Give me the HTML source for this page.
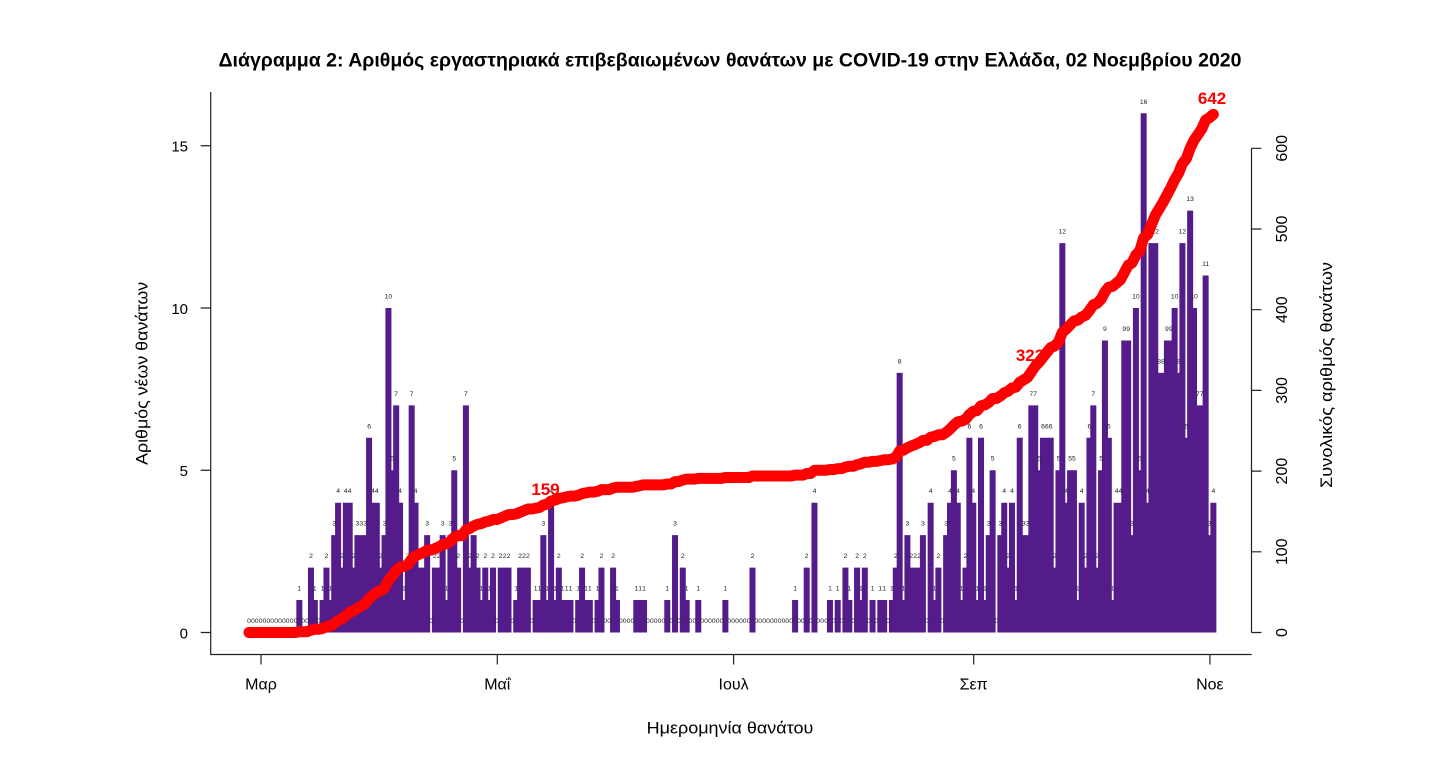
<!DOCTYPE html>
<html><head><meta charset="utf-8">
<style>html,body{margin:0;padding:0;background:#fff;}svg{display:block}</style>
</head><body>
<svg width="1436" height="758" viewBox="0 0 1436 758" xmlns="http://www.w3.org/2000/svg" font-family="'Liberation Sans', 'DejaVu Sans', sans-serif">
<rect width="1436" height="758" fill="#fff"/>
<!-- title -->
<text x="730" y="66.7" text-anchor="middle" font-size="19" font-weight="bold" fill="#000" textLength="1023" lengthAdjust="spacingAndGlyphs">Διάγραμμα 2: Αριθμός εργαστηριακά επιβεβαιωμένων θανάτων με COVID-19 στην Ελλάδα, 02 Νοεμβρίου 2020</text>

<!-- bars -->
<g transform="translate(249 632.5) scale(3.873 -32.45) translate(-0.7746 0)" fill="#541b8a">
<path d="M13 0h1.55v1h-1.55z M16 0h1.55v2h-1.55z M17 0h1.55v1h-1.55z M19 0h1.55v1h-1.55z M20 0h1.55v2h-1.55z M21 0h1.55v1h-1.55z M22 0h1.55v3h-1.55z M23 0h1.55v4h-1.55z M24 0h1.55v2h-1.55z M25 0h1.55v4h-1.55z M26 0h1.55v4h-1.55z M27 0h1.55v2h-1.55z M28 0h1.55v3h-1.55z M29 0h1.55v3h-1.55z M30 0h1.55v3h-1.55z M31 0h1.55v6h-1.55z M32 0h1.55v4h-1.55z M33 0h1.55v4h-1.55z M34 0h1.55v2h-1.55z M35 0h1.55v3h-1.55z M36 0h1.55v10h-1.55z M37 0h1.55v5h-1.55z M38 0h1.55v7h-1.55z M39 0h1.55v4h-1.55z M40 0h1.55v1h-1.55z M41 0h1.55v2h-1.55z M42 0h1.55v7h-1.55z M43 0h1.55v4h-1.55z M44 0h1.55v2h-1.55z M45 0h1.55v2h-1.55z M46 0h1.55v3h-1.55z M48 0h1.55v2h-1.55z M49 0h1.55v2h-1.55z M50 0h1.55v3h-1.55z M51 0h1.55v1h-1.55z M52 0h1.55v3h-1.55z M53 0h1.55v5h-1.55z M54 0h1.55v2h-1.55z M56 0h1.55v7h-1.55z M57 0h1.55v2h-1.55z M58 0h1.55v3h-1.55z M59 0h1.55v2h-1.55z M60 0h1.55v1h-1.55z M61 0h1.55v2h-1.55z M62 0h1.55v1h-1.55z M63 0h1.55v2h-1.55z M65 0h1.55v2h-1.55z M66 0h1.55v2h-1.55z M67 0h1.55v2h-1.55z M69 0h1.55v1h-1.55z M70 0h1.55v2h-1.55z M71 0h1.55v2h-1.55z M72 0h1.55v2h-1.55z M74 0h1.55v1h-1.55z M75 0h1.55v1h-1.55z M76 0h1.55v3h-1.55z M77 0h1.55v1h-1.55z M78 0h1.55v4h-1.55z M79 0h1.55v1h-1.55z M80 0h1.55v2h-1.55z M81 0h1.55v1h-1.55z M82 0h1.55v1h-1.55z M83 0h1.55v1h-1.55z M85 0h1.55v1h-1.55z M86 0h1.55v2h-1.55z M87 0h1.55v1h-1.55z M88 0h1.55v1h-1.55z M90 0h1.55v1h-1.55z M91 0h1.55v2h-1.55z M94 0h1.55v2h-1.55z M95 0h1.55v1h-1.55z M100 0h1.55v1h-1.55z M101 0h1.55v1h-1.55z M102 0h1.55v1h-1.55z M108 0h1.55v1h-1.55z M110 0h1.55v3h-1.55z M112 0h1.55v2h-1.55z M113 0h1.55v1h-1.55z M116 0h1.55v1h-1.55z M123 0h1.55v1h-1.55z M130 0h1.55v2h-1.55z M141 0h1.55v1h-1.55z M144 0h1.55v2h-1.55z M146 0h1.55v4h-1.55z M150 0h1.55v1h-1.55z M152 0h1.55v1h-1.55z M154 0h1.55v2h-1.55z M155 0h1.55v1h-1.55z M157 0h1.55v2h-1.55z M158 0h1.55v1h-1.55z M159 0h1.55v2h-1.55z M161 0h1.55v1h-1.55z M163 0h1.55v1h-1.55z M164 0h1.55v1h-1.55z M166 0h1.55v1h-1.55z M167 0h1.55v2h-1.55z M168 0h1.55v8h-1.55z M169 0h1.55v1h-1.55z M170 0h1.55v3h-1.55z M171 0h1.55v2h-1.55z M172 0h1.55v2h-1.55z M173 0h1.55v2h-1.55z M174 0h1.55v3h-1.55z M176 0h1.55v4h-1.55z M177 0h1.55v1h-1.55z M178 0h1.55v2h-1.55z M180 0h1.55v3h-1.55z M181 0h1.55v4h-1.55z M182 0h1.55v5h-1.55z M183 0h1.55v4h-1.55z M184 0h1.55v1h-1.55z M185 0h1.55v2h-1.55z M186 0h1.55v6h-1.55z M187 0h1.55v4h-1.55z M188 0h1.55v1h-1.55z M189 0h1.55v6h-1.55z M190 0h1.55v1h-1.55z M191 0h1.55v3h-1.55z M192 0h1.55v5h-1.55z M194 0h1.55v3h-1.55z M195 0h1.55v4h-1.55z M196 0h1.55v2h-1.55z M197 0h1.55v4h-1.55z M198 0h1.55v1h-1.55z M199 0h1.55v6h-1.55z M200 0h1.55v3h-1.55z M201 0h1.55v3h-1.55z M202 0h1.55v7h-1.55z M203 0h1.55v7h-1.55z M204 0h1.55v5h-1.55z M205 0h1.55v6h-1.55z M206 0h1.55v6h-1.55z M207 0h1.55v6h-1.55z M208 0h1.55v2h-1.55z M209 0h1.55v5h-1.55z M210 0h1.55v12h-1.55z M211 0h1.55v4h-1.55z M212 0h1.55v5h-1.55z M213 0h1.55v5h-1.55z M214 0h1.55v1h-1.55z M215 0h1.55v4h-1.55z M216 0h1.55v2h-1.55z M217 0h1.55v6h-1.55z M218 0h1.55v7h-1.55z M219 0h1.55v2h-1.55z M220 0h1.55v5h-1.55z M221 0h1.55v9h-1.55z M222 0h1.55v6h-1.55z M223 0h1.55v1h-1.55z M224 0h1.55v4h-1.55z M225 0h1.55v4h-1.55z M226 0h1.55v9h-1.55z M227 0h1.55v9h-1.55z M228 0h1.55v3h-1.55z M229 0h1.55v10h-1.55z M230 0h1.55v5h-1.55z M231 0h1.55v16h-1.55z M232 0h1.55v4h-1.55z M233 0h1.55v12h-1.55z M234 0h1.55v12h-1.55z M235 0h1.55v8h-1.55z M236 0h1.55v8h-1.55z M237 0h1.55v9h-1.55z M238 0h1.55v9h-1.55z M239 0h1.55v10h-1.55z M240 0h1.55v8h-1.55z M241 0h1.55v12h-1.55z M242 0h1.55v6h-1.55z M243 0h1.55v13h-1.55z M244 0h1.55v10h-1.55z M245 0h1.55v7h-1.55z M246 0h1.55v7h-1.55z M247 0h1.55v11h-1.55z M248 0h1.55v3h-1.55z M249 0h1.55v4h-1.55z"/>
</g>

<!-- bar value labels -->
<g font-size="6.8" fill="#222" text-anchor="middle">
<text y="623" x="249 252.9 256.7 260.6 264.5 268.4 272.2 276.1 280 283.9 287.7 291.6 295.5 303.2 307.1 318.7 431 462 496.9 512.4 531.7 574.3 593.7 605.3 609.2 620.8 624.7 628.6 632.4 647.9 651.8 655.7 659.5 663.4 671.2 678.9 690.5 694.4 702.1 706 709.9 713.8 717.6 721.5 729.3 733.1 737 740.9 744.7 748.6 756.4 760.2 764.1 768 771.9 775.7 779.6 783.5 787.3 791.2 799 802.8 810.6 818.3 822.2 826.1 833.8 841.6 853.2 868.7 876.4 888 926.8 942.3 996.5">000000000000000000000000000000000000000000000000000000000000000000000000000</text>
<text y="590.5" x="299.3 314.8 322.6 330.3 403.9 446.5 481.4 489.1 516.2 535.6 539.5 547.2 555 562.7 566.6 570.5 578.2 586 589.8 597.6 616.9 636.3 640.2 644 667.3 686.6 698.3 725.4 795.1 830 837.7 849.3 860.9 872.6 880.3 884.2 891.9 903.5 934.5 961.6 977.1 984.9 1015.9 1077.8 1112.7">111111111111111111111111111111111111111111111</text>
<text y="558.1" x="311 326.5 342 353.6 380.7 407.8 419.4 423.3 434.9 438.8 458.1 469.8 477.5 485.3 493 500.7 504.6 508.5 520.1 524 527.9 558.8 582.1 601.4 613.1 682.8 752.5 806.7 845.4 857.1 864.8 895.8 911.3 915.2 919 938.4 965.5 1008.1 1054.6 1085.6 1097.2">22222222222222222222222222222222222222222</text>
<text y="525.6" x="334.2 357.4 361.3 365.2 384.6 427.2 442.7 450.4 473.6 543.3 675 907.4 922.9 946.1 988.7 1000.4 1023.6 1027.5 1132 1209.5">33333333333333333333</text>
<text y="493.2" x="338.1 345.8 349.7 372.9 376.8 400 415.5 551.1 814.5 930.6 950 957.8 973.3 1004.2 1012 1066.2 1081.7 1116.6 1120.4 1147.5 1213.4">444444444444444444444</text>
<text y="460.7" x="392.3 454.3 953.9 992.6 1039.1 1058.5 1070.1 1073.9 1101.1 1139.8">5555555555</text>
<text y="428.3" x="369.1 969.4 981 1019.7 1043 1046.8 1050.7 1089.4 1108.8 1186.3">6666666666</text>
<text y="395.8" x="396.2 411.7 465.9 1031.3 1035.2 1093.3 1197.9 1201.8">77777777</text>
<text y="363.4" x="899.7 1159.2 1163 1178.5">8888</text>
<text y="330.9" x="1104.9 1124.3 1128.2 1166.9 1170.8">99999</text>
<text x="388.4" y="298.5">10</text>
<text x="1135.9" y="298.5">10</text>
<text x="1174.6" y="298.5">10</text>
<text x="1194" y="298.5">10</text>
<text x="1205.6" y="266">11</text>
<text x="1062.3" y="233.6">12</text>
<text x="1151.4" y="233.6">12</text>
<text x="1155.3" y="233.6">12</text>
<text x="1182.4" y="233.6">12</text>
<text x="1190.1" y="201.1">13</text>
<text x="1143.7" y="103.8">16</text>
</g>

<!-- cumulative line -->
<g transform="translate(249 632.5) scale(3.873 -0.807)">
<polyline fill="none" stroke="#ff0000" stroke-width="11" stroke-linejoin="round" stroke-linecap="round" vector-effect="non-scaling-stroke" points="0,0 12,0 13,1 15,1 16,3 17,4 18,4 19,5 20,7 21,8 22,11 23,15 24,17 25,21 26,25 27,27 28,30 29,33 30,36 31,42 32,46 33,50 34,52 35,55 36,65 37,70 38,77 39,81 40,82 41,84 42,91 43,95 44,97 45,99 46,102 47,102 48,104 49,106 50,109 51,110 52,113 53,118 54,120 55,120 56,127 57,129 58,132 59,134 60,135 61,137 62,138 63,140 64,140 65,142 66,144 67,146 68,146 69,147 70,149 71,151 72,153 73,153 74,154 75,155 76,158 77,159 78,163 79,164 80,166 81,167 82,168 83,169 84,169 85,170 86,172 87,173 88,174 89,174 90,175 91,177 93,177 94,179 95,180 99,180 100,181 101,182 102,183 107,183 108,184 109,184 110,187 111,187 112,189 113,190 115,190 116,191 122,191 123,192 129,192 130,194 140,194 141,195 143,195 144,197 145,197 146,201 149,201 150,202 151,202 152,203 153,203 154,205 155,206 156,206 157,208 158,209 159,211 160,211 161,212 162,212 163,213 164,214 165,214 166,215 167,217 168,225 169,226 170,229 171,231 172,233 173,235 174,238 175,238 176,242 177,243 178,245 179,245 180,248 181,252 182,257 183,261 184,262 185,264 186,270 187,274 188,275 189,281 190,282 191,285 192,290 193,290 194,293 195,297 196,299 197,303 198,304 199,310 200,313 201,316 202,323 203,330 204,335 205,341 206,347 207,353 208,355 209,360 210,372 211,376 212,381 213,386 214,387 215,391 216,393 217,399 218,406 219,408 220,413 221,422 222,428 223,429 224,433 225,437 226,446 227,455 228,458 229,468 230,473 231,489 232,493 233,505 234,517 235,525 236,533 237,542 238,551 239,561 240,569 241,581 242,587 243,600 244,610 245,617 246,624 247,635 248,638 249,642"/>
</g>

<!-- red annotations -->
<g font-size="17" font-weight="bold" fill="#ff0000" text-anchor="middle">
<text x="545.5" y="495">159</text>
<text x="1030" y="361">323</text>
<text x="1212" y="104">642</text>
</g>

<!-- axes -->
<g stroke="#222" stroke-width="1.2" fill="none">
<path d="M210.7 92V654.5H1251.7"/>
<path d="M200.7 632.5H210.7M200.7 470.25H210.7M200.7 308H210.7M200.7 145.75H210.7"/>
<path d="M261 654.5V664.5M497.3 654.5V664.5M733.6 654.5V664.5M973.7 654.5V664.5M1209.9 654.5V664.5"/>
<path d="M1251.5 148.3V632.5"/>
<path d="M1251.5 632.5H1261.5M1251.5 551.8H1261.5M1251.5 471.1H1261.5M1251.5 390.4H1261.5M1251.5 309.7H1261.5M1251.5 229H1261.5M1251.5 148.3H1261.5"/>
</g>

<!-- left tick labels -->
<g font-size="15" fill="#000" text-anchor="end">
<text x="188" y="638.5">0</text>
<text x="188" y="476.2">5</text>
<text x="188" y="313.9">10</text>
<text x="188" y="151.6">15</text>
</g>

<!-- right tick labels -->
<g font-size="16" fill="#000" text-anchor="middle">
<text transform="translate(1287 632.5) rotate(-90)">0</text>
<text transform="translate(1287 551.8) rotate(-90)">100</text>
<text transform="translate(1287 471.1) rotate(-90)">200</text>
<text transform="translate(1287 390.4) rotate(-90)">300</text>
<text transform="translate(1287 309.7) rotate(-90)">400</text>
<text transform="translate(1287 229) rotate(-90)">500</text>
<text transform="translate(1287 148.3) rotate(-90)">600</text>
</g>

<!-- x tick labels -->
<g font-size="16" fill="#000" text-anchor="middle">
<text x="261" y="689.5">Μαρ</text>
<text x="497.3" y="689.5">Μαΐ</text>
<text x="733.6" y="689.5">Ιουλ</text>
<text x="973.7" y="689.5">Σεπ</text>
<text x="1209.9" y="689.5">Νοε</text>
</g>

<!-- axis titles -->
<text x="730" y="733.3" text-anchor="middle" font-size="17" fill="#000" textLength="166.7" lengthAdjust="spacingAndGlyphs">Ημερομηνία θανάτου</text>
<text transform="translate(147.5 373.4) rotate(-90)" text-anchor="middle" font-size="17" fill="#000" textLength="183" lengthAdjust="spacingAndGlyphs">Αριθμός νέων θανάτων</text>
<text transform="translate(1332 375) rotate(-90)" text-anchor="middle" font-size="17" fill="#000" textLength="226" lengthAdjust="spacingAndGlyphs">Συνολικός αριθμός θανάτων</text>
</svg>
</body></html>
